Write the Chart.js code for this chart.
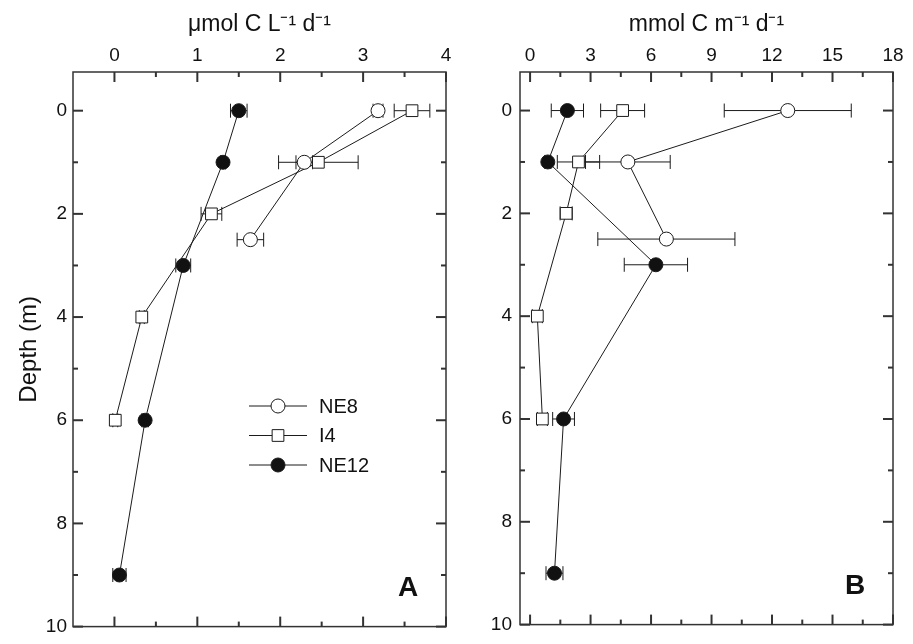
<!DOCTYPE html>
<html>
<head>
<meta charset="utf-8">
<script src="https://cdn.jsdelivr.net/npm/chart.js@4.4.1/dist/chart.umd.min.js"></script>
<style>
  html, body { margin: 0; padding: 0; background: #fff; }
  body { width: 913px; height: 644px; position: relative; overflow: hidden; }
  canvas { position: absolute; top: 0; }
  #panelA { left: 0; }
  #panelB { left: 470px; }
</style>
</head>
<body>
<canvas id="panelA" width="470" height="644"></canvas>
<canvas id="panelB" width="443" height="644"></canvas>
<script>
// depths of the samples (m)
const depthNE8 = [0, 1, 2.5];
const depthI4 = [0, 1, 2, 4, 6];
const depthNE12 = [0, 1, 3, 6, 9];

// panel A, umol C L-1 d-1
const ne8Vol = [3.18, 2.29, 1.64];
const ne8VolErr = [0.06, 0.1, 0.16];
const i4Vol = [3.59, 2.46, 1.17, 0.33, 0.01];
const i4VolErr = [0.215, 0.48, 0.125, 0.03, 0.03];
const ne12Vol = [1.5, 1.31, 0.83, 0.37, 0.06];
const ne12VolErr = [0.1, 0.03, 0.09, 0.04, 0.08];

// panel B, mmol C m-1 d-1
const ne8Area = [12.78, 4.85, 6.76];
const ne8AreaErr = [3.15, 2.1, 3.4];
const i4Area = [4.59, 2.4, 1.79, 0.36, 0.61];
const i4AreaErr = [1.09, 1.05, 0.3, 0.25, 0.25];
const ne12Area = [1.85, 0.88, 6.24, 1.66, 1.21];
const ne12AreaErr = [0.8, 0.15, 1.57, 0.54, 0.42];

// ticks
const depthTicks = [0, 2, 4, 6, 8, 10];
const depthMinor = [1, 3, 5, 7, 9];
const volTicks = [0, 1, 2, 3, 4];
const volMinor = [0.5, 1.5, 2.5, 3.5];
const areaTicks = [0, 3, 6, 9, 12, 15, 18];
const areaMinor = [1.5, 4.5, 7.5, 10.5, 13.5, 16.5];

const FONT = "'Liberation Sans', Arial, Helvetica, sans-serif";
const INK = '#1b1b1b';

function toPoints(xs, ys) {
  return xs.map((x, i) => ({ x, y: ys[i] }));
}

function styleFor(name) {
  if (name === 'I4') return { pointStyle: 'rect', pointRadius: 8.3, pointBackgroundColor: '#fff' };
  if (name === 'NE12') return { pointStyle: 'circle', pointRadius: 7, pointBackgroundColor: '#111' };
  return { pointStyle: 'circle', pointRadius: 7, pointBackgroundColor: '#fff' };
}

function makeDataset(name, xs, depths, errs) {
  return {
    label: name,
    data: toPoints(xs, depths),
    errors: errs,
    showLine: true,
    borderColor: INK,
    borderWidth: 1,
    pointBorderColor: INK,
    pointBorderWidth: 1,
    ...styleFor(name),
  };
}

const errorBars = {
  id: 'errorBars',
  beforeDatasetsDraw(chart) {
    const { ctx, scales: { x, y } } = chart;
    ctx.save();
    ctx.strokeStyle = INK;
    ctx.lineWidth = 1;
    chart.data.datasets.forEach((ds) => {
      ds.data.forEach((p, i) => {
        const e = ds.errors[i];
        const x1 = x.getPixelForValue(p.x - e);
        const x2 = x.getPixelForValue(p.x + e);
        const py = y.getPixelForValue(p.y);
        ctx.beginPath();
        ctx.moveTo(x1, py); ctx.lineTo(x2, py);
        ctx.moveTo(x1, py - 7); ctx.lineTo(x1, py + 7);
        ctx.moveTo(x2, py - 7); ctx.lineTo(x2, py + 7);
        ctx.stroke();
      });
    });
    ctx.restore();
  },
};

function makeFrame(xMajor, xMinor, letter) {
  return {
    id: 'frame',
    afterDraw(chart) {
      const { ctx, chartArea: a, scales: { x, y } } = chart;
      const line = (x1, y1, x2, y2) => {
        ctx.beginPath(); ctx.moveTo(x1, y1); ctx.lineTo(x2, y2); ctx.stroke();
      };
      ctx.save();
      ctx.strokeStyle = '#333';
      ctx.lineWidth = 1.5;
      ctx.strokeRect(a.left, a.top, a.width, a.height);
      ctx.lineWidth = 2;
      xMajor.forEach((v) => {
        const px = x.getPixelForValue(v);
        line(px, a.top, px, a.top + 10);
        line(px, a.bottom, px, a.bottom - 10);
      });
      xMinor.forEach((v) => {
        const px = x.getPixelForValue(v);
        line(px, a.top, px, a.top + 5);
        line(px, a.bottom, px, a.bottom - 5);
      });
      depthTicks.forEach((v) => {
        const py = y.getPixelForValue(v);
        line(a.left, py, a.left + 10, py);
        line(a.right, py, a.right - 10, py);
      });
      depthMinor.forEach((v) => {
        const py = y.getPixelForValue(v);
        line(a.left, py, a.left + 5, py);
        line(a.right, py, a.right - 5, py);
      });
      ctx.fillStyle = '#111';
      ctx.font = `bold 28px ${FONT}`;
      ctx.textAlign = 'center';
      ctx.textBaseline = 'alphabetic';
      ctx.fillText(letter, a.right - 38, a.bottom - 31);
      ctx.restore();
    },
  };
}

const legendBox = {
  id: 'legendBox',
  afterDraw(chart) {
    const { ctx } = chart;
    ctx.save();
    chart.data.datasets.forEach((ds, i) => {
      const cy = 406 + i * 29.5;
      ctx.strokeStyle = INK;
      ctx.lineWidth = 1;
      ctx.beginPath(); ctx.moveTo(249, cy); ctx.lineTo(307, cy); ctx.stroke();
      ctx.fillStyle = ds.pointBackgroundColor;
      Chart.helpers.drawPoint(ctx, {
        pointStyle: ds.pointStyle, radius: ds.pointRadius, rotation: 0, borderWidth: 1,
      }, 278, cy);
      ctx.fillStyle = '#111';
      ctx.font = `20px ${FONT}`;
      ctx.textAlign = 'left';
      ctx.textBaseline = 'middle';
      ctx.fillText(ds.label, 319, cy + 1);
    });
    ctx.restore();
  },
};

function renderPanel(canvasId, cfg) {
  const canvas = document.getElementById(canvasId);
  const plugins = [errorBars, makeFrame(cfg.xTicks, cfg.xMinor, cfg.letter)];
  if (cfg.legend) plugins.push(legendBox);
  return new Chart(canvas, {
    type: 'scatter',
    data: { datasets: cfg.datasets },
    plugins,
    options: {
      responsive: false,
      animation: false,
      devicePixelRatio: 1,
      events: [],
      layout: { padding: { left: 0, top: 0, right: cfg.padRight, bottom: 12 } },
      plugins: { legend: { display: false }, tooltip: { enabled: false } },
      scales: {
        x: {
          type: 'linear',
          position: 'top',
          min: cfg.xMin,
          max: cfg.xMax,
          afterBuildTicks: (s) => { s.ticks = cfg.xTicks.map((value) => ({ value })); },
          afterFit: (s) => { s.height = 72; },
          grid: { display: false, drawTicks: false },
          border: { display: false },
          ticks: { autoSkip: false, maxRotation: 0, padding: 5, color: '#111', font: { family: FONT, size: 19 } },
          title: {
            display: true,
            text: cfg.xTitle,
            color: '#111',
            font: { family: FONT, size: 23 },
            padding: { top: 11, bottom: 0 },
          },
        },
        y: {
          type: 'linear',
          position: 'left',
          reverse: true,
          min: -0.75,
          max: 10,
          afterBuildTicks: (s) => { s.ticks = depthTicks.map((value) => ({ value })); },
          afterFit: (s) => { s.width = cfg.yWidth; },
          grid: { display: false, drawTicks: false },
          border: { display: false },
          ticks: { autoSkip: false, padding: cfg.yPad, color: '#111', font: { family: FONT, size: 19 } },
          title: {
            display: !!cfg.yTitle,
            text: cfg.yTitle || '',
            color: '#111',
            font: { family: FONT, size: 24 },
            padding: { top: 15, bottom: 0 },
          },
        },
      },
    },
  });
}

renderPanel('panelA', {
  letter: 'A',
  legend: true,
  xMin: -0.5,
  xMax: 4,
  xTicks: volTicks,
  xMinor: volMinor,
  xTitle: 'μmol C L⁻¹ d⁻¹',
  yTitle: 'Depth (m)',
  yWidth: 73,
  yPad: 6,
  padRight: 24,
  datasets: [
    makeDataset('NE8', ne8Vol, depthNE8, ne8VolErr),
    makeDataset('I4', i4Vol, depthI4, i4VolErr),
    makeDataset('NE12', ne12Vol, depthNE12, ne12VolErr),
  ],
});

renderPanel('panelB', {
  letter: 'B',
  legend: false,
  xMin: -0.5,
  xMax: 18,
  xTicks: areaTicks,
  xMinor: areaMinor,
  xTitle: 'mmol C m⁻¹ d⁻¹',
  yTitle: null,
  yWidth: 50,
  yPad: 8,
  padRight: 20,
  datasets: [
    makeDataset('NE8', ne8Area, depthNE8, ne8AreaErr),
    makeDataset('I4', i4Area, depthI4, i4AreaErr),
    makeDataset('NE12', ne12Area, depthNE12, ne12AreaErr),
  ],
});
</script>
</body>
</html>
